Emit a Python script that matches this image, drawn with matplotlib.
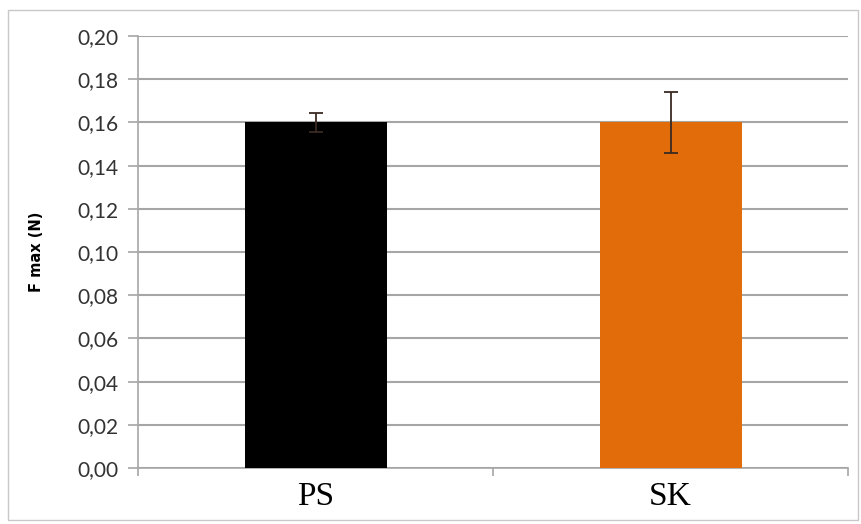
import matplotlib
matplotlib.use("Agg")
import matplotlib.pyplot as plt
from matplotlib.patches import Rectangle

categories = ["PS", "SK"]
values = [0.160, 0.160]
errors = [0.0045, 0.0143]
colors = ["#000000", "#E36C0A"]
yticks = [0.00, 0.02, 0.04, 0.06, 0.08, 0.10, 0.12, 0.14, 0.16, 0.18, 0.20]
ylabels = ["0,00", "0,02", "0,04", "0,06", "0,08", "0,10", "0,12", "0,14", "0,16", "0,18", "0,20"]

fig = plt.figure(figsize=(8.62, 5.24), dpi=100)
fig.patches.append(Rectangle((8/862, 4/524), 850/862, 510/524, transform=fig.transFigure,
                             fill=False, edgecolor="#c8c8c8", lw=1.0))
ax = fig.add_axes([138/862, 1-468/524, 710/862, 432/524])

x = list(range(len(categories)))
ax.bar(x, values, width=0.4, color=colors, zorder=3)
ax.errorbar(x, values, yerr=errors, fmt="none", ecolor="#3a2a22", elinewidth=1.3,
            capsize=5, capthick=1.3, zorder=4)

ax.set_xlim(-0.5, 1.5)
ax.set_ylim(0, 0.20)
ax.set_yticks(yticks)
ax.set_yticklabels(ylabels, fontfamily="Lato", fontsize=15, color="#333333")
ax.yaxis.grid(True, color="#a6a6a6", lw=1.5, zorder=0)
ax.set_axisbelow(True)

ax.set_xticks(x)
ax.set_xticklabels(categories, fontfamily="Liberation Serif", fontsize=24)
ax.tick_params(axis="x", length=0, pad=10)
ax.set_xticks([-0.5, 0.5, 1.5], minor=True)
ax.tick_params(axis="x", which="minor", length=6, color="#a6a6a6", width=1.2)
ax.tick_params(axis="y", length=7, color="#a6a6a6", width=1.2, pad=7)

for s in ["top", "right"]:
    ax.spines[s].set_visible(False)
ax.spines["left"].set_color("#a6a6a6")
ax.spines["bottom"].set_color("#a6a6a6")
ax.spines["left"].set_linewidth(1.2)
ax.spines["bottom"].set_linewidth(1.2)

ax.set_ylabel("F max (N)", fontsize=10.5, fontweight="bold", fontfamily="DejaVu Sans", labelpad=24)

fig.savefig("out.png", dpi=100)
